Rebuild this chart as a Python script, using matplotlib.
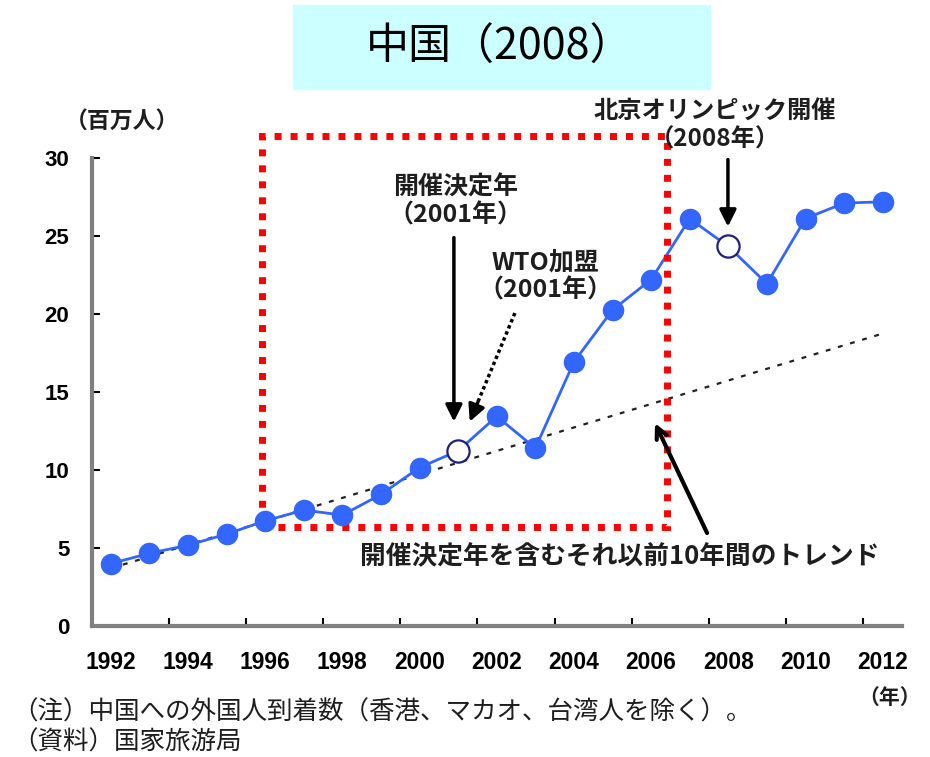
import numpy as np
import matplotlib
matplotlib.use('agg')
import matplotlib.pyplot as plt
from matplotlib.patches import Rectangle

plt.rcParams['font.family'] = ['Noto Sans CJK JP', 'DejaVu Sans']

# 中国への外国人到着数（百万人）
years = [1992, 1993, 1994, 1995, 1996, 1997, 1998, 1999, 2000, 2001, 2002,
         2003, 2004, 2005, 2006, 2007, 2008, 2009, 2010, 2011, 2012]
arrivals = [4.00, 4.66, 5.18, 5.89, 6.74, 7.43, 7.11, 8.43, 10.16, 11.23, 13.44,
            11.40, 16.93, 20.26, 22.21, 26.11, 24.33, 21.94, 26.12, 27.11, 27.19]
open_years = [2001, 2008]
label_years = [1992, 1994, 1996, 1998, 2000, 2002, 2004, 2006, 2008, 2010, 2012]
yticks = [0, 5, 10, 15, 20, 25, 30]
trend_base = (1992, 2001)   # 開催決定年を含むそれ以前10年間

W, H = 930, 757
fig = plt.figure(figsize=(W / 100, H / 100), dpi=100)
ax = fig.add_axes([91.5 / W, 1 - 626 / H, (902 - 91.5) / W, (626 - 158) / H])

yrs = np.array(years)
vals = np.array(arrivals)

# trend line fitted on 1992-2001, extended to 2012
sel = (yrs >= trend_base[0]) & (yrs <= trend_base[1])
coef = np.polyfit(yrs[sel], vals[sel], 1)
ax.plot(yrs, np.polyval(coef, yrs), color='#222222', lw=1.6,
        dashes=(2.2, 3.5), zorder=1)

blue = '#3366ff'
ax.plot(yrs, vals, color=blue, lw=2, zorder=2)

# red dotted frame
rect = Rectangle((1995.92, 6.35), 10.49, 25.05, fill=False, ec='#ff0000',
                 lw=5, ls=(0, (1, 1.3)), clip_on=False, zorder=3)
ax.add_patch(rect)

is_open = np.isin(yrs, open_years)
ax.plot(yrs[~is_open], vals[~is_open], 'o', color=blue, ms=14.5, mec=blue,
        zorder=4, clip_on=False)
ax.plot(yrs[is_open], vals[is_open], 'o', mfc='white', mec='#1f1f80',
        mew=1.6, ms=16, zorder=4)

ax.set_xlim(1991.5, 2012.5)
ax.set_ylim(0, 30)
for s in ['top', 'right']:
    ax.spines[s].set_visible(False)
for s in ['left', 'bottom']:
    ax.spines[s].set_color('#808080')
    ax.spines[s].set_linewidth(3)

ax.set_xticks(label_years)
ax.set_xticklabels([str(y) for y in label_years], fontsize=16.5, fontweight='bold',
                   family=['Liberation Sans'])
ax.set_xticks(np.arange(1993.5, 2012, 2), minor=True)
ax.tick_params(axis='x', which='major', length=0, pad=18)
ax.tick_params(axis='x', which='minor', direction='in', length=6, width=1.5,
               color='black')
ax.set_yticks(yticks)
ax.set_yticklabels([str(v) for v in yticks], fontsize=16, fontweight='bold',
                   family=['Liberation Sans'])
ax.tick_params(axis='y', direction='in', length=6, width=1.5, color='black', pad=16)

txt = '#1e1e1e'
head = '-|>,head_length=1.0,head_width=0.5'
arrow_kw = dict(arrowstyle=head, color='black', lw=2.5, shrinkA=0, shrinkB=0)

# 開催決定年
ax.annotate('', xy=(2000.89, 13.1), xytext=(2000.89, 24.9), arrowprops=arrow_kw)
ax.text(2000.92, 27.2, '開催決定年\n（2001年）', ha='center', va='center',
        fontsize=18, fontweight='bold', color=txt, linespacing=1.2)

# WTO加盟: dotted shaft, solid head
wto_tail = (2002.47, 20.06)
wto_tip = (2001.30, 13.1)
frac = 0.82
mid = (wto_tail[0] + frac * (wto_tip[0] - wto_tail[0]),
       wto_tail[1] + frac * (wto_tip[1] - wto_tail[1]))
ax.plot([wto_tail[0], mid[0]], [wto_tail[1], mid[1]], color='black', lw=2.5,
        dashes=(1.0, 0.9), solid_capstyle='butt', zorder=5)
ax.annotate('', xy=wto_tip, xytext=mid, arrowprops=arrow_kw)
ax.text(2003.25, 22.4, 'WTO加盟\n（2001年）', ha='center', va='center',
        fontsize=18, fontweight='bold', color=txt, linespacing=1.2)

# 北京オリンピック
ax.annotate('', xy=(2007.99, 25.6), xytext=(2007.99, 29.9), arrowprops=arrow_kw)
ax.text(2007.65, 32.1, '北京オリンピック開催\n（2008年）', ha='center', va='center',
        fontsize=17.5, fontweight='bold', color=txt, linespacing=1.2)

# trend
ax.annotate('', xy=(2006.1, 13.0), xytext=(2007.45, 5.96),
            arrowprops=dict(arrowstyle='->,head_length=0.8,head_width=0.4',
                            color='black', lw=3, shrinkA=0, shrinkB=0))
ax.text(1998.46, 4.42, '開催決定年を含むそれ以前10年間のトレンド', ha='left',
        va='center', fontsize=18.5, fontweight='bold', color=txt)

# title box
fig.add_artist(Rectangle((293 / W, 1 - 89 / H), (710 - 293) / W, 84 / H,
                         transform=fig.transFigure, color='#ccffff', zorder=0))
fig.text(500 / W, 1 - 48 / H, '中国（2008）', ha='center', va='center',
         fontsize=31, color='black')

fig.text(122 / W, 1 - 122 / H, '（百万人）', ha='center', va='center',
         fontsize=16.5, fontweight='bold', color=txt)
fig.text(890 / W, 1 - 697 / H, '（年）', ha='center', va='center',
         fontsize=15, fontweight='bold', color=txt)
fig.text(12 / W, 1 - 713 / H, '（注）中国への外国人到着数（香港、マカオ、台湾人を除く）。',
         ha='left', va='center', fontsize=18.4, color=txt)
fig.text(12 / W, 1 - 743 / H, '（資料）国家旅游局', ha='left', va='center',
         fontsize=18.4, color=txt)

fig.savefig('out.png', dpi=100, facecolor='white')
